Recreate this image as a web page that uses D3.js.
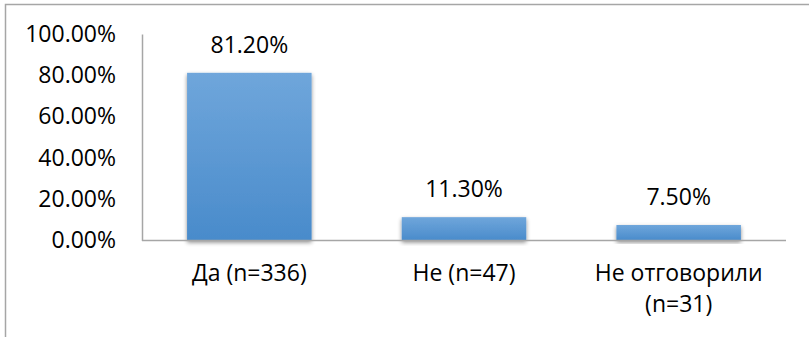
<!DOCTYPE html>
<html>
<head>
<meta charset="utf-8">
<script src="https://cdn.jsdelivr.net/npm/d3@7"></script>
<style>
  html, body { margin: 0; padding: 0; background: #fff; }
  svg { display: block; }
  text { font-family: "Open Sans", "Noto Sans", sans-serif; fill: #000; }
</style>
</head>
<body>
<svg id="chart" width="809" height="337"></svg>
<script>
// Survey answers and their shares (percent)
const categories = [["Да (n=336)"], ["Не (n=47)"], ["Не отговорили", "(n=31)"]];
const values = [81.2, 11.3, 7.5];
const yTicks = [0, 20, 40, 60, 80, 100];

const W = 809, H = 337;
const margin = { left: 142, right: 23, top: 34, bottom: 96 };
const FONT = "23px";

const svg = d3.select("#chart");

// frame around the chart area
svg.append("rect")
  .attr("x", 5.5).attr("y", 4.5)
  .attr("width", W + 10).attr("height", H + 10)
  .attr("fill", "none").attr("stroke", "#a6a6a6").attr("stroke-width", 1.5);

const defs = svg.append("defs");
const grad = defs.append("linearGradient")
  .attr("id", "barFill").attr("x1", 0).attr("y1", 0).attr("x2", 0).attr("y2", 1);
grad.append("stop").attr("offset", "0%").attr("stop-color", "#6fa6db");
grad.append("stop").attr("offset", "100%").attr("stop-color", "#498bcb");

const shadow = defs.append("filter").attr("id", "shadow")
  .attr("x", "-20%").attr("y", "-20%").attr("width", "140%").attr("height", "140%");
shadow.append("feGaussianBlur").attr("in", "SourceAlpha").attr("stdDeviation", 2.2).attr("result", "b");
shadow.append("feOffset").attr("in", "b").attr("dx", 0).attr("dy", 1.5).attr("result", "o");
shadow.append("feComponentTransfer").attr("in", "o").attr("result", "s")
  .append("feFuncA").attr("type", "linear").attr("slope", 0.45);
const merge = shadow.append("feMerge");
merge.append("feMergeNode").attr("in", "s");
merge.append("feMergeNode").attr("in", "SourceGraphic");

const x = d3.scaleBand()
  .domain(d3.range(values.length))
  .range([margin.left, W - margin.right])
  .paddingInner(0.42).paddingOuter(0.21);

const y = d3.scaleLinear()
  .domain([0, 100])
  .range([H - margin.bottom - 0.5, margin.top]);

// y axis with percentage labels
const yAxis = svg.append("g")
  .attr("transform", `translate(${margin.left},0)`)
  .call(d3.axisLeft(y).tickValues(yTicks).tickSize(0).tickPadding(26)
    .tickFormat(d => d.toFixed(2) + "%"));
yAxis.select(".domain").attr("stroke", "#a6a6a6").attr("stroke-width", 1.5);
yAxis.selectAll("text").style("font-size", FONT).attr("fill", "#000");

// bars
svg.append("g").selectAll("rect")
  .data(values)
  .join("rect")
  .attr("x", (d, i) => x(i))
  .attr("y", d => y(d))
  .attr("width", x.bandwidth())
  .attr("height", d => y(0) - y(d))
  .attr("fill", "url(#barFill)")
  .attr("filter", "url(#shadow)");

// baseline
svg.append("line")
  .attr("x1", margin.left).attr("x2", W - margin.right)
  .attr("y1", y(0)).attr("y2", y(0))
  .attr("stroke", "#a6a6a6").attr("stroke-width", 1.5);

// value labels
svg.append("g").selectAll("text")
  .data(values)
  .join("text")
  .attr("x", (d, i) => x(i) + x.bandwidth() / 2)
  .attr("y", d => y(d) - 20)
  .attr("text-anchor", "middle")
  .style("font-size", FONT)
  .text(d => d.toFixed(2) + "%");

// category labels
const cat = svg.append("g").selectAll("text")
  .data(categories)
  .join("text")
  .attr("x", (d, i) => x(i) + x.bandwidth() / 2)
  .attr("y", y(0) + 40)
  .attr("text-anchor", "middle")
  .style("font-size", FONT);
cat.selectAll("tspan")
  .data(d => d)
  .join("tspan")
  .attr("x", function () { return d3.select(this.parentNode).attr("x"); })
  .attr("dy", (d, i) => i === 0 ? 0 : 31)
  .text(d => d);
</script>
</body>
</html>
